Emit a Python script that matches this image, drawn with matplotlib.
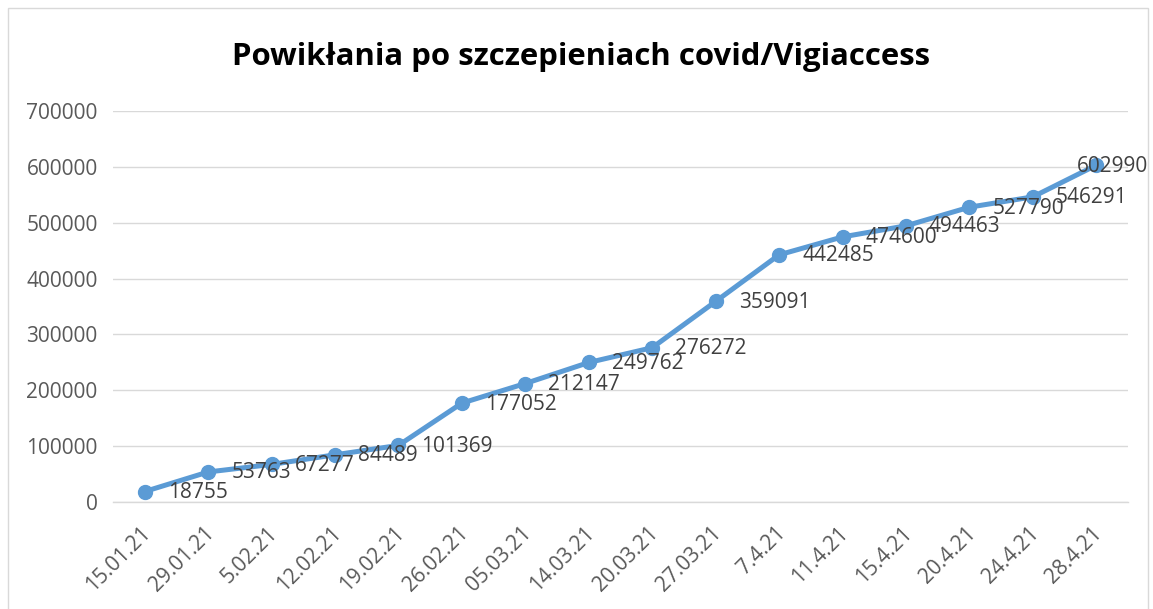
import matplotlib
matplotlib.use("Agg")
import matplotlib.pyplot as plt
from matplotlib.patches import Rectangle
from matplotlib.transforms import ScaledTranslation

dates = ["15.01.21", "29.01.21", "5.02.21", "12.02.21", "19.02.21", "26.02.21",
         "05.03.21", "14.03.21", "20.03.21", "27.03.21", "7.4.21", "11.4.21",
         "15.4.21", "20.4.21", "24.4.21", "28.4.21"]
values = [18755, 53763, 67277, 84489, 101369, 177052, 212147, 249762, 276272,
          359091, 442485, 474600, 494463, 527790, 546291, 602990]
yticks = [0, 100000, 200000, 300000, 400000, 500000, 600000, 700000]
title = "Powikłania po szczepieniach covid/Vigiaccess"

plt.rcParams['font.family'] = ['Open Sans', 'DejaVu Sans']

W, H = 1153, 609
fig = plt.figure(figsize=(W / 100, H / 100), dpi=100)
fig.patch.set_facecolor("white")
fig.patches.append(Rectangle((8 / W, -0.05), (1148 - 8) / W, 1.05 - 8 / H,
                             transform=fig.transFigure, fill=False,
                             edgecolor="#D9D9D9", linewidth=1.0))

ax = fig.add_axes([113 / W, 1 - 502 / H, (1128 - 113) / W, (502 - 111) / H])
x = list(range(len(dates)))
ax.plot(x, values, color="#5B9BD5", linewidth=3.6, marker="o", markersize=10,
        solid_capstyle="round", zorder=3, clip_on=False)
n = len(values)
for i, (xi, v) in enumerate(zip(x, values)):
    if i == n - 1:
        ax.annotate(str(v), (xi, v), xytext=(52, -1), textcoords="offset pixels",
                    ha="right", va="center", fontsize=15, color="#404040", zorder=4)
    else:
        ax.annotate(str(v), (xi, v), xytext=(23, -1), textcoords="offset pixels",
                    ha="left", va="center", fontsize=15, color="#404040", zorder=4)

ax.set_xlim(-0.5, len(dates) - 0.5)
ax.set_ylim(0, 700000)
ax.set_yticks(yticks)
ax.set_yticklabels([str(t) for t in yticks], fontsize=15, color="#595959")
ax.set_xticks(x)
ax.set_xticklabels([])
lbl_tr = ax.get_xaxis_transform() + ScaledTranslation(3 / 100, -28 / 100, fig.dpi_scale_trans)
for xi, d in zip(x, dates):
    ax.text(xi, 0, d, transform=lbl_tr, fontsize=15, color="#595959",
            rotation=45, ha="right", va="center", rotation_mode="anchor",
            clip_on=False)
ax.tick_params(axis="y", length=0, pad=11)
ax.tick_params(axis="x", length=0, pad=0)
ax.grid(axis="y", color="#D9D9D9", linewidth=1.0)
ax.set_axisbelow(True)
for s in ["left", "right", "top"]:
    ax.spines[s].set_visible(False)
ax.spines["bottom"].set_color("#D9D9D9")
ax.spines["bottom"].set_linewidth(1.0)

fig.text(581 / W, 1 - 57 / H, title, ha="center", va="center",
         fontsize=22.4, fontweight="bold", color="black")

fig.savefig("out.png", dpi=100, facecolor="white")
